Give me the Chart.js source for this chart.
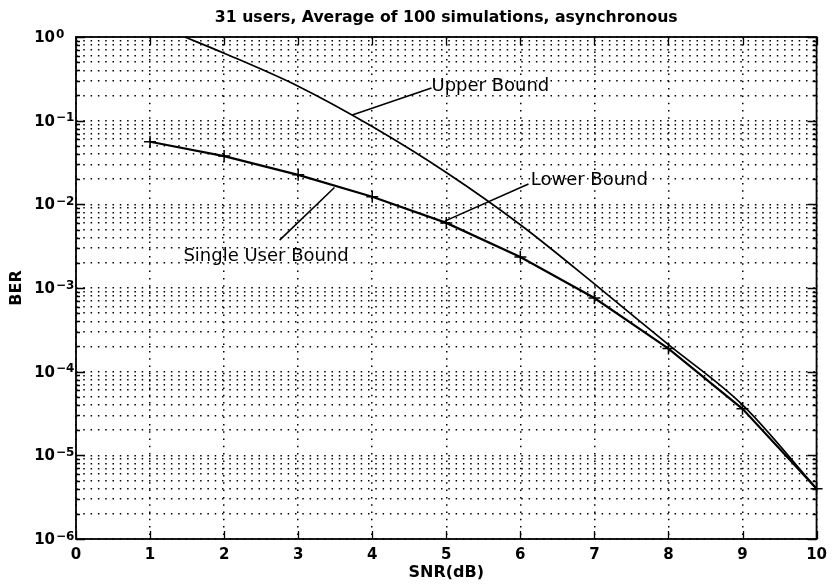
<!DOCTYPE html>
<html>
<head>
<meta charset="utf-8">
<script src="https://cdn.jsdelivr.net/npm/chart.js@4.4.1/dist/chart.umd.min.js"></script>
<style>
  html, body { margin: 0; padding: 0; background: #fff; }
  #wrap { width: 834px; height: 584px; }
</style>
</head>
<body>
<div id="wrap"><canvas id="ber-chart"></canvas></div>
<script>
// single user bound (with + markers)
const snrPoints = [1, 2, 3, 4, 5, 6, 7, 8, 9, 10]
const singleUserBER = [0.056, 0.0377, 0.0225, 0.0123, 0.0060, 0.00235, 0.00076, 0.000189, 0.000036, 0.0000040]

// upper bound curve (starts at the top edge near 1.47 dB)
const upperSNR = [1.47, 2, 3, 4, 5, 6, 7, 8, 9, 10]
const upperBER = [1.0, 0.64, 0.258, 0.085, 0.024, 0.0057, 0.00112, 0.00021, 0.000040, 0.0000040]

const xTicks = [0, 1, 2, 3, 4, 5, 6, 7, 8, 9, 10]
const decades = [-6, -5, -4, -3, -2, -1, 0]

const chartTitle = '31 users, Average of 100 simulations, asynchronous'

// annotations: label, text anchor, leader line start / end (data units)
const noteLabels = ['Upper Bound', 'Lower Bound', 'Single User Bound']
const noteTextAt = [[4.80, 0.26], [6.14, 0.0191], [1.45, 0.00242]]
const noteLineFrom = [[4.80, 0.245], [6.11, 0.01745], [2.75, 0.00373]]
const noteLineTo = [[3.73, 0.117], [4.98, 0.0063], [3.49, 0.0159]]

const FONT = "'DejaVu Sans', sans-serif"

function isDecade(v) {
    const l = Math.log10(v)
    return Math.abs(l - Math.round(l)) < 1e-9
}

function toXY(xs, ys) {
    return xs.map((x, i) => ({x: x, y: ys[i]}))
}

const matlabFrame = {
    id: 'matlabFrame',
    afterDraw(chart) {
        const {ctx, chartArea: a, scales} = chart
        const x = scales.x, y = scales.y
        ctx.save()

        // box
        ctx.strokeStyle = '#000'
        ctx.lineWidth = 1.8
        ctx.strokeRect(a.left, a.top, a.right - a.left, a.bottom - a.top)

        // inward ticks
        ctx.lineWidth = 1.3
        ctx.beginPath()
        y.ticks.forEach(t => {
            const py = Math.round(y.getPixelForValue(t.value)) + 0.5
            const len = isDecade(t.value) ? 9 : 4
            ctx.moveTo(a.left, py); ctx.lineTo(a.left + len, py)
            ctx.moveTo(a.right, py); ctx.lineTo(a.right - len, py)
        })
        x.ticks.forEach(t => {
            const px = Math.round(x.getPixelForValue(t.value)) + 0.5
            ctx.moveTo(px, a.bottom); ctx.lineTo(px, a.bottom - 8)
            ctx.moveTo(px, a.top); ctx.lineTo(px, a.top + 8)
        })
        ctx.stroke()

        // y labels: 10 with raised exponent
        ctx.fillStyle = '#000'
        y.ticks.forEach(t => {
            if (!isDecade(t.value)) return
            const py = y.getPixelForValue(t.value)
            const e = Math.round(Math.log10(t.value))
            ctx.font = 'bold 15px ' + FONT
            ctx.textAlign = 'right'
            ctx.textBaseline = 'middle'
            ctx.fillText('10', a.left - 21, py + 1)
            ctx.font = 'bold 12px ' + FONT
            ctx.textAlign = 'left'
            ctx.textBaseline = 'alphabetic'
            ctx.fillText(e === 0 ? '0' : '\u2212' + Math.abs(e), a.left - 20, py + 0.5)
        })

        // annotations
        ctx.font = '18px ' + FONT
        ctx.textAlign = 'left'
        ctx.textBaseline = 'middle'
        ctx.lineWidth = 1.6
        noteLabels.forEach((label, i) => {
            ctx.fillText(label, x.getPixelForValue(noteTextAt[i][0]), y.getPixelForValue(noteTextAt[i][1]))
            ctx.beginPath()
            ctx.moveTo(x.getPixelForValue(noteLineFrom[i][0]), y.getPixelForValue(noteLineFrom[i][1]))
            ctx.lineTo(x.getPixelForValue(noteLineTo[i][0]), y.getPixelForValue(noteLineTo[i][1]))
            ctx.stroke()
        })
        ctx.restore()
    }
}

const ctx = document.getElementById('ber-chart')
const berChart = new Chart(ctx, {
    type: 'line',
    data: {
        datasets: [{
            label: 'Upper Bound',
            data: toXY(upperSNR, upperBER),
            borderColor: '#000',
            borderWidth: 1.7,
            pointRadius: 0,
            cubicInterpolationMode: 'monotone',
            fill: false
        }, {
            label: 'Single User Bound',
            data: toXY(snrPoints, singleUserBER),
            borderColor: '#000',
            borderWidth: 2.2,
            pointStyle: 'cross',
            pointRadius: 6,
            pointBorderWidth: 1.5,
            pointBorderColor: '#000',
            tension: 0,
            fill: false,
            clip: 10
        }]
    },
    options: {
        responsive: true,
        maintainAspectRatio: false,
        animation: false,
        devicePixelRatio: 1,
        layout: { padding: { left: 0, right: 15, top: 0, bottom: 0 } },
        plugins: {
            legend: { display: false },
            tooltip: { enabled: false }
        },
        scales: {
            x: {
                type: 'linear',
                position: 'bottom',
                min: 0,
                max: 10,
                afterBuildTicks: (scale) => { scale.ticks = xTicks.map(v => ({value: v})) },
                afterFit: (scale) => { scale.height = 45 },
                ticks: {
                    color: '#000',
                    font: { family: FONT, size: 15, weight: 'bold' },
                    padding: 7,
                    maxRotation: 0
                },
                grid: { color: '#000', lineWidth: 1.5, drawTicks: false },
                border: { display: false, dash: [1.5, 5.8] },
                title: {
                    display: true,
                    text: 'SNR(dB)',
                    color: '#000',
                    font: { family: FONT, size: 16, weight: 'bold' },
                    padding: { top: 0, bottom: 2 }
                }
            },
            x2: {
                type: 'linear',
                position: 'top',
                min: 0,
                max: 10,
                afterFit: (scale) => { scale.height = 37 },
                ticks: { display: false },
                grid: { display: false },
                border: { display: false },
                title: {
                    display: true,
                    text: chartTitle,
                    color: '#000',
                    font: { family: FONT, size: 15.7, weight: 'bold' },
                    padding: { top: 9, bottom: 0 }
                }
            },
            y: {
                type: 'logarithmic',
                min: 1e-6,
                max: 1,
                afterBuildTicks: (scale) => {
                    const t = []
                    decades.forEach(d => {
                        const n = d === 0 ? 1 : 9
                        for (let m = 1; m <= n; m++) t.push({value: m * Math.pow(10, d)})
                    })
                    scale.ticks = t
                },
                afterFit: (scale) => { scale.width = 76 },
                ticks: { display: false },
                grid: { color: '#000', lineWidth: 1.5, drawTicks: false },
                border: { display: false, dash: [1.5, 5.8] },
                title: {
                    display: true,
                    text: 'BER',
                    color: '#000',
                    font: { family: FONT, size: 16, weight: 'bold' },
                    padding: { top: 7, bottom: 0 }
                }
            }
        }
    },
    plugins: [matlabFrame]
})
</script>
</body>
</html>
